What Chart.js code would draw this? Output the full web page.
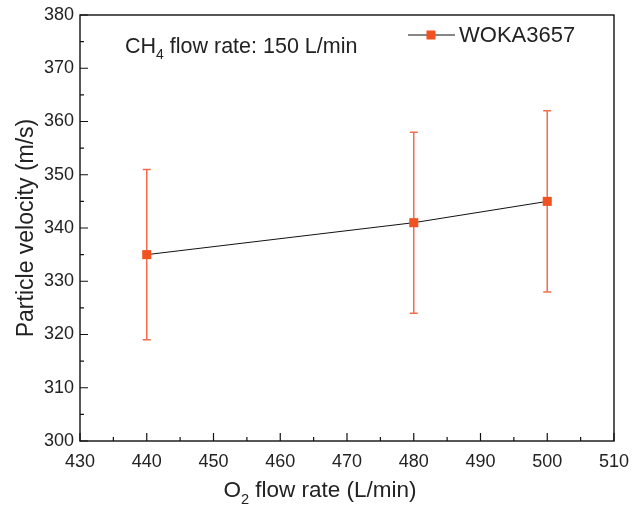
<!DOCTYPE html>
<html>
<head>
<meta charset="utf-8">
<script src="https://cdn.jsdelivr.net/npm/chart.js@4.4.1/dist/chart.umd.min.js"></script>
<style>
  html, body { margin: 0; padding: 0; background: #fff; }
  #wrap { width: 634px; height: 506px; }
</style>
</head>
<body>
<div id="wrap"><canvas id="velocidad"></canvas></div>
<script>
// data
var o2Flow = [440, 480, 500];
var velocity = [335, 341, 345];
var errUp = [16, 17, 17];
var errDown = [16, 17, 17];
var seriesName = 'WOKA3657';
var xTicks = [430, 440, 450, 460, 470, 480, 490, 500, 510];
var yTicks = [300, 310, 320, 330, 340, 350, 360, 370, 380];

var fontFam = 'Arial, "Liberation Sans", Helvetica, sans-serif';
var markerColor = '#f2521f';
var barColor = '#f26d4b';
var textColor = '#222';

// text with one subscript character: parts = [[text, isSub], ...]
function drawSubText(ctx, parts, x, y, size, align) {
  var total = 0;
  parts.forEach(function (p) {
    ctx.font = (p[1] ? size * 0.65 : size) + 'px ' + fontFam;
    total += ctx.measureText(p[0]).width;
  });
  var cx = align === 'center' ? x - total / 2 : x;
  parts.forEach(function (p) {
    ctx.font = (p[1] ? size * 0.65 : size) + 'px ' + fontFam;
    ctx.fillText(p[0], cx, p[1] ? y + size * 0.3 : y);
    cx += ctx.measureText(p[0]).width;
  });
}

var decoPlugin = {
  id: 'deco',
  beforeDatasetsDraw: function (chart) {
    var ctx = chart.ctx, xs = chart.scales.x, ys = chart.scales.y;
    ctx.save();
    ctx.strokeStyle = barColor;
    ctx.lineWidth = 1.5;
    for (var i = 0; i < o2Flow.length; i++) {
      var px = xs.getPixelForValue(o2Flow[i]);
      var top = ys.getPixelForValue(velocity[i] + errUp[i]);
      var bot = ys.getPixelForValue(velocity[i] - errDown[i]);
      ctx.beginPath();
      ctx.moveTo(px, top); ctx.lineTo(px, bot);
      ctx.moveTo(px - 4, top); ctx.lineTo(px + 4, top);
      ctx.moveTo(px - 4, bot); ctx.lineTo(px + 4, bot);
      ctx.stroke();
    }
    ctx.restore();
  },
  afterDraw: function (chart) {
    var ctx = chart.ctx, a = chart.chartArea;
    var xs = chart.scales.x, ys = chart.scales.y;
    ctx.save();
    // frame
    ctx.strokeStyle = '#111';
    ctx.lineWidth = 1.4;
    ctx.strokeRect(a.left, a.top, a.right - a.left, a.bottom - a.top);
    // inward ticks, major and minor
    ctx.lineWidth = 1.2;
    ctx.beginPath();
    for (var v = 430; v <= 510; v += 5) {
      var px = xs.getPixelForValue(v);
      var len = v % 10 === 0 ? 8 : 4;
      ctx.moveTo(px, a.bottom); ctx.lineTo(px, a.bottom - len);
    }
    for (var w = 300; w <= 380; w += 5) {
      var py = ys.getPixelForValue(w);
      var l2 = w % 10 === 0 ? 8 : 4;
      ctx.moveTo(a.left, py); ctx.lineTo(a.left + l2, py);
    }
    ctx.stroke();

    ctx.fillStyle = textColor;
    ctx.textBaseline = 'alphabetic';
    ctx.textAlign = 'left';
    // x axis title
    drawSubText(ctx, [['O', false], ['2', true], [' flow rate (L/min)', false]], 320, 497, 22.5, 'center');
    // annotation
    drawSubText(ctx, [['CH', false], ['4', true], [' flow rate: 150 L/min', false]], 125, 53, 21.5, 'left');
    // y axis title
    ctx.save();
    ctx.translate(33, (a.top + a.bottom) / 2);
    ctx.rotate(-Math.PI / 2);
    ctx.textAlign = 'center';
    ctx.font = '23px ' + fontFam;
    ctx.fillText('Particle velocity (m/s)', 0, 0);
    ctx.restore();

    // legend
    var ly = 35;
    ctx.strokeStyle = '#111';
    ctx.lineWidth = 1.2;
    ctx.beginPath();
    ctx.moveTo(408, ly); ctx.lineTo(455, ly);
    ctx.stroke();
    ctx.fillStyle = markerColor;
    ctx.fillRect(426.5, ly - 4.5, 9, 9);
    ctx.fillStyle = textColor;
    ctx.font = '22px ' + fontFam;
    ctx.textBaseline = 'middle';
    ctx.fillText(chart.data.datasets[0].label, 459, ly + 1);
    ctx.restore();
  }
};

var ctx = document.getElementById('velocidad');
new Chart(ctx, {
  type: 'line',
  data: {
    datasets: [{
      label: seriesName,
      data: o2Flow.map(function (x, i) { return { x: x, y: velocity[i] }; }),
      borderColor: '#111',
      borderWidth: 1,
      pointStyle: 'rect',
      pointRadius: 6.4,
      pointBackgroundColor: markerColor,
      pointBorderColor: markerColor,
      pointBorderWidth: 0,
      tension: 0
    }]
  },
  options: {
    responsive: true,
    maintainAspectRatio: false,
    animation: false,
    layout: { padding: { top: 15, right: 20, left: 0, bottom: 0 } },
    plugins: {
      legend: { display: false },
      tooltip: { enabled: false }
    },
    scales: {
      x: {
        type: 'linear',
        min: xTicks[0],
        max: xTicks[xTicks.length - 1],
        afterBuildTicks: function (s) { s.ticks = xTicks.map(function (v) { return { value: v }; }); },
        afterFit: function (s) { s.height = 65; s.paddingLeft = 0; s.paddingRight = 0; },
        grid: { display: false, drawTicks: false },
        border: { display: false },
        ticks: { padding: 10, color: textColor, font: { family: fontFam, size: 18 }, maxRotation: 0 }
      },
      y: {
        type: 'linear',
        min: yTicks[0],
        max: yTicks[yTicks.length - 1],
        afterBuildTicks: function (s) { s.ticks = yTicks.map(function (v) { return { value: v }; }); },
        afterFit: function (s) { s.width = 80; s.paddingTop = 0; s.paddingBottom = 0; },
        grid: { display: false, drawTicks: false },
        border: { display: false },
        ticks: { padding: 6, color: textColor, font: { family: fontFam, size: 18 } }
      }
    }
  },
  plugins: [decoPlugin]
});
</script>
</body>
</html>
